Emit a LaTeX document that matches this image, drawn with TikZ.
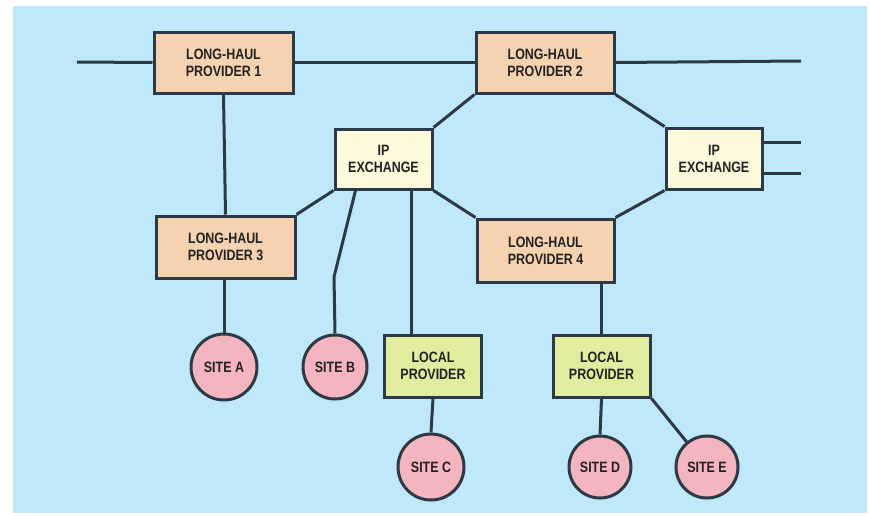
\documentclass[tikz,border=0pt]{standalone}
\usepackage{fontspec}
\setmainfont{Liberation Sans}[FakeStretch=0.83]
\usetikzlibrary{backgrounds}
\definecolor{bgblue}{HTML}{BFE9FA}
\definecolor{peach}{HTML}{F6D3B0}
\definecolor{cream}{HTML}{FDFADC}
\definecolor{lgreen}{HTML}{E2EC9E}
\definecolor{pinkc}{HTML}{F4B4C0}
\definecolor{linec}{HTML}{2B3A45}
\definecolor{txtc}{HTML}{222222}
\begin{document}
\begin{tikzpicture}[x=1pt,y=-1pt,
  conn/.style={draw=linec,line width=3pt},
  boxbase/.style={draw=linec,line width=3pt,rectangle,align=center,inner sep=0pt,
     text=txtc,font=\fontsize{15}{17}\selectfont\bfseries},
  lhbox/.style={boxbase,fill=peach},
  ipbox/.style={boxbase,fill=cream},
  lpbox/.style={boxbase,fill=lgreen,minimum width=97pt,minimum height=62pt},
  sitec/.style={boxbase,circle,fill=pinkc,minimum size=#1},
]
\useasboundingbox (0,0) rectangle (869,515);

\coordinate (L1) at (77,62);
\coordinate (R1) at (801,61);
\coordinate (R2) at (801,142);
\coordinate (R3) at (801,173);
\coordinate (bk) at (334,277);

\node[lhbox,minimum width=139pt,minimum height=61pt] (LH1) at (223.5,62.5) {LONG-HAUL\\PROVIDER 1};
\node[lhbox,minimum width=138pt,minimum height=61pt] (LH2) at (545,62.5) {LONG-HAUL\\PROVIDER 2};
\node[lhbox,minimum width=139pt,minimum height=62pt] (LH3) at (225.5,247) {LONG-HAUL\\PROVIDER 3};
\node[lhbox,minimum width=137pt,minimum height=63pt] (LH4) at (545.5,250.5) {LONG-HAUL\\PROVIDER 4};
\node[ipbox,minimum width=97pt,minimum height=60pt] (IPL) at (383.5,159) {IP\\EXCHANGE};
\node[ipbox,minimum width=96pt,minimum height=61pt] (IPR) at (714,158.5) {IP\\EXCHANGE};
\node[lpbox] (LPC) at (433,366) {LOCAL\\PROVIDER};
\node[lpbox] (LPD) at (601.5,366) {LOCAL\\PROVIDER};
\node[sitec=66pt] (SA) at (224,367) {SITE A};
\node[sitec=64pt] (SB) at (335,367) {SITE B};
\node[sitec=66pt] (SC) at (431,467) {SITE C};
\node[sitec=62pt] (SD) at (600,467) {SITE D};
\node[sitec=62pt] (SE) at (707,467) {SITE E};

\begin{scope}[on background layer]
\fill[white] (0,0) rectangle (869,515);
\fill[bgblue] (13,6) rectangle (867,513);
\path[conn] (L1) -- (LH1.west);
\path[conn] (LH1.east) -- (LH2.west);
\path[conn] (LH2.east) -- (R1);
\path[conn] (LH1.south) -- (LH3.north);
\path[conn] (LH2.south west) -- (IPL.north east);
\path[conn] (LH2.south east) -- (IPR.north west);
\path[conn] (IPR.south west) -- (LH4.north east);
\path[conn] (IPL.south east) -- (LH4.north west);
\path[conn] (IPL.south west) -- (LH3.north east);
\path[conn] ([yshift=16.5pt]IPR.east) -- (R2);
\path[conn] ([yshift=-14.5pt]IPR.east) -- (R3);
\path[conn] ([xshift=22pt]IPL.south west) -- (bk) -- (SB.north);
\path[conn] ([xshift=27.5pt]IPL.south) -- ([xshift=27.5pt]IPL.south |- LPC.north);
\path[conn] (LH3.south -| SA.north) -- (SA.north);
\path[conn] (LPC.south) -- (SC.north);
\path[conn] (LPD.north) -- (LPD.north |- LH4.south);
\path[conn] (LPD.south) -- (SD.north);
\path[conn] (LPD.south east) -- (SE);
\end{scope}
\end{tikzpicture}
\end{document}
